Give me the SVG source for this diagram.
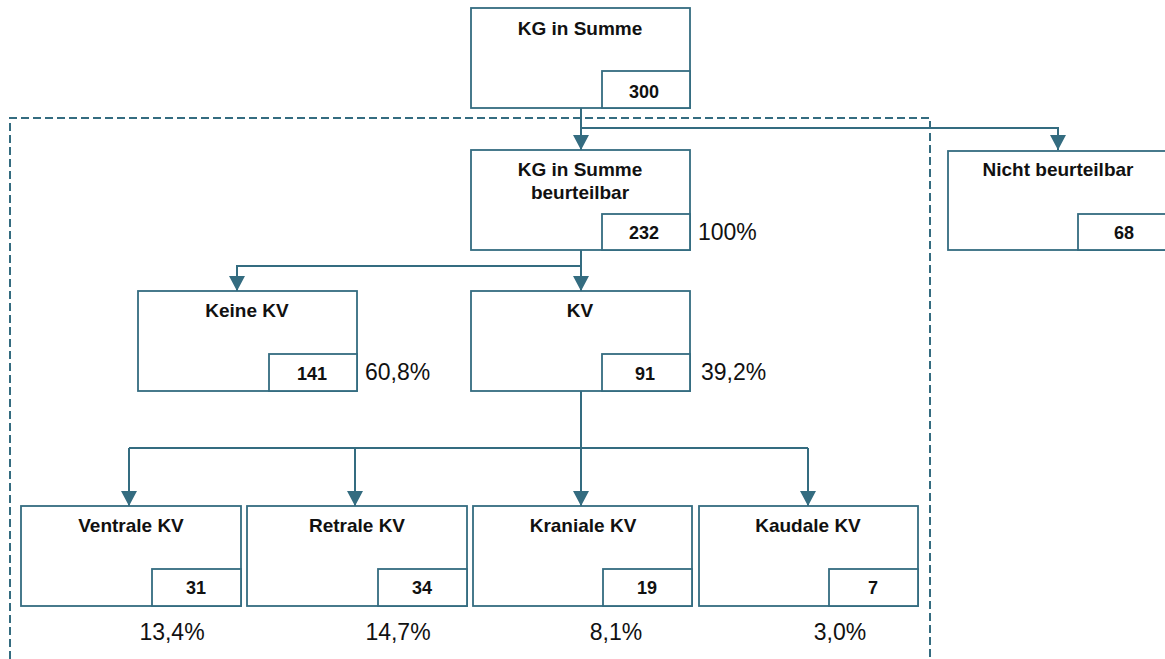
<svg xmlns="http://www.w3.org/2000/svg" width="1165" height="659" viewBox="0 0 1165 659">
<style>
.box{fill:#fff;stroke:#346C80;stroke-width:1.8}
.lbl{font-family:"Liberation Sans",Arial,sans-serif;font-weight:bold;font-size:19px;fill:#111;text-anchor:middle}
.num{font-family:"Liberation Sans",Arial,sans-serif;font-weight:bold;font-size:18px;fill:#111;text-anchor:middle}
.pct{font-family:"Liberation Sans",Arial,sans-serif;font-size:23px;fill:#111}
.con{fill:none;stroke:#346C80;stroke-width:2}
.head{fill:#346C80}
</style>
<rect width="1165" height="659" fill="#fff"/>
<path d="M10,659 V118 H930 V659" fill="none" stroke="#346C80" stroke-width="2" stroke-dasharray="8,4"/>
<g id="connectors">
<path class="con" d="M581,108 V150"/>
<path class="con" d="M581,128 H1058 V150"/>
<path class="con" d="M581,250 V291"/>
<path class="con" d="M581,266 H237 V291"/>
<path class="con" d="M581,391 V448 M129,448 H808"/>
<path class="con" d="M129,448 V506"/>
<path class="con" d="M355,448 V506"/>
<path class="con" d="M581,448 V506"/>
<path class="con" d="M808,448 V506"/>
<path class="head" d="M573,135 H589 L581,150 Z"/>
<path class="head" d="M1050,135 H1066 L1058,150 Z"/>
<path class="head" d="M573,276 H589 L581,291 Z"/>
<path class="head" d="M229,276 H245 L237,291 Z"/>
<path class="head" d="M121,491 H137 L129,506 Z"/>
<path class="head" d="M347,491 H363 L355,506 Z"/>
<path class="head" d="M573,491 H589 L581,506 Z"/>
<path class="head" d="M800,491 H816 L808,506 Z"/>
</g>
<g id="kg-summe">
<rect class="box" x="471" y="8" width="219" height="100"/>
<rect class="box" x="602" y="71" width="88" height="37"/>
<text class="lbl" x="580" y="35">KG in Summe</text>
<text class="num" x="644" y="98">300</text>
</g>
<g id="kg-beurteilbar">
<rect class="box" x="471" y="150" width="219" height="100"/>
<rect class="box" x="602" y="214" width="88" height="36"/>
<text class="lbl" x="580" y="176">KG in Summe</text>
<text class="lbl" x="580" y="199">beurteilbar</text>
<text class="num" x="644" y="239">232</text>
<text class="pct" x="698" y="240">100%</text>
</g>
<g id="nicht-beurteilbar">
<rect class="box" x="948" y="151" width="230" height="99"/>
<rect class="box" x="1078" y="214" width="100" height="36"/>
<text class="lbl" x="1058" y="176">Nicht beurteilbar</text>
<text class="num" x="1124" y="239">68</text>
</g>
<g id="keine-kv">
<rect class="box" x="138" y="291" width="219" height="100"/>
<rect class="box" x="269" y="354" width="88" height="37"/>
<text class="lbl" x="247" y="317">Keine KV</text>
<text class="num" x="312" y="380">141</text>
<text class="pct" x="365" y="380">60,8%</text>
</g>
<g id="kv">
<rect class="box" x="471" y="291" width="219" height="100"/>
<rect class="box" x="602" y="354" width="88" height="37"/>
<text class="lbl" x="580" y="317">KV</text>
<text class="num" x="645" y="380">91</text>
<text class="pct" x="701" y="380">39,2%</text>
</g>
<g id="ventrale-kv">
<rect class="box" x="21" y="506" width="220" height="100"/>
<rect class="box" x="152" y="569" width="89" height="37"/>
<text class="lbl" x="131" y="532">Ventrale KV</text>
<text class="num" x="196" y="594">31</text>
<text class="pct" x="172" y="640" text-anchor="middle">13,4%</text>
</g>
<g id="retrale-kv">
<rect class="box" x="247" y="506" width="220" height="100"/>
<rect class="box" x="378" y="569" width="89" height="37"/>
<text class="lbl" x="357" y="532">Retrale KV</text>
<text class="num" x="422" y="594">34</text>
<text class="pct" x="398" y="640" text-anchor="middle">14,7%</text>
</g>
<g id="kraniale-kv">
<rect class="box" x="473" y="506" width="219" height="100"/>
<rect class="box" x="603" y="569" width="89" height="37"/>
<text class="lbl" x="583" y="532">Kraniale KV</text>
<text class="num" x="647" y="594">19</text>
<text class="pct" x="616" y="640" text-anchor="middle">8,1%</text>
</g>
<g id="kaudale-kv">
<rect class="box" x="699" y="506" width="219" height="100"/>
<rect class="box" x="829" y="569" width="89" height="37"/>
<text class="lbl" x="808" y="532">Kaudale KV</text>
<text class="num" x="873" y="594">7</text>
<text class="pct" x="840" y="640" text-anchor="middle">3,0%</text>
</g>
</svg>
